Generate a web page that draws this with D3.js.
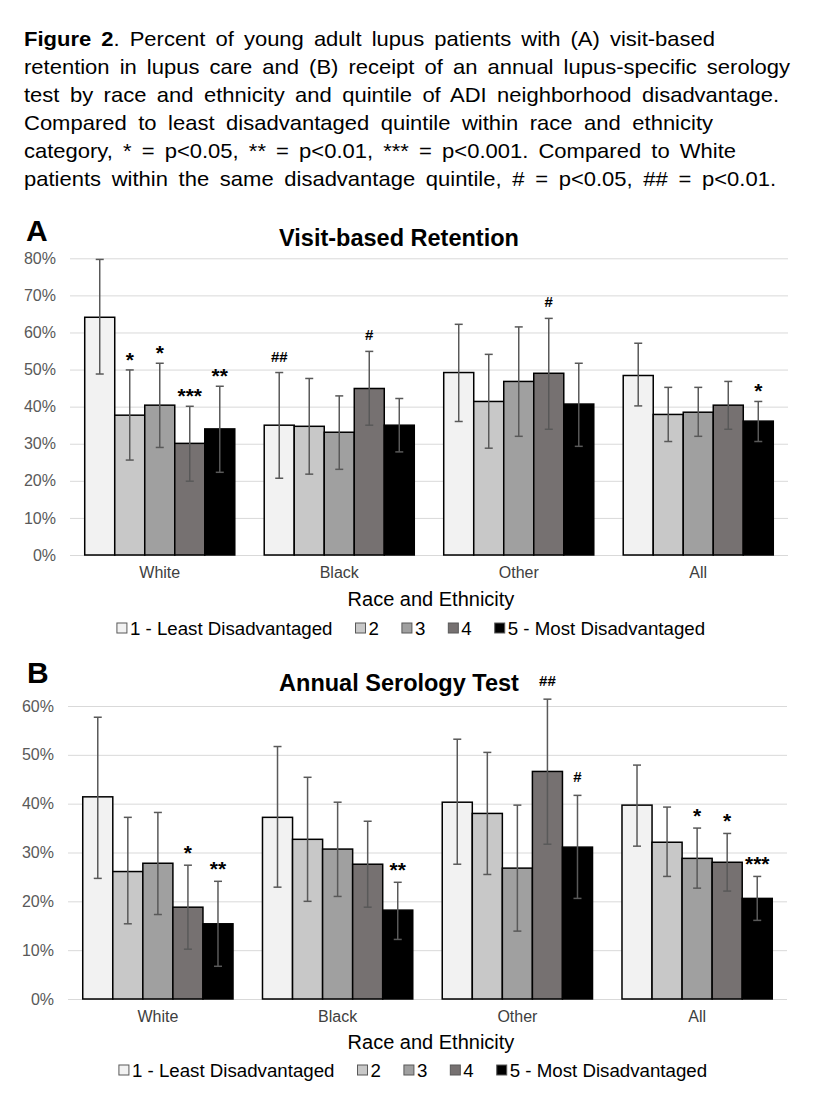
<!DOCTYPE html>
<html>
<head>
<meta charset="utf-8">
<script src="https://cdn.jsdelivr.net/npm/d3@7"></script>
<style>
  body { margin: 0; background: #fff; }
  svg { display: block; font-family: "Liberation Sans", Arial, sans-serif; }
</style>
</head>
<body>
<div id="chart"></div>
<script>
const categories = ['White', 'Black', 'Other', 'All'];
const quintiles = ['1 - Least Disadvantaged', '2', '3', '4', '5 - Most Disadvantaged'];
const colors = ['#f2f2f2', '#c8c8c8', '#a0a0a0', '#767171', '#000000'];

// A: visit-based retention (%), one row per category, one value per quintile
const retention     = [[64.1, 37.7, 40.4, 30.1, 34.0], [35.0, 34.7, 33.1, 44.9, 35.0], [49.2, 41.4, 46.8, 49.0, 40.7], [48.4, 37.9, 38.5, 40.4, 36.1]];
const retentionLow  = [[48.8, 25.6, 29.0, 19.9, 22.3], [20.7, 21.8, 23.1, 35.0, 27.8], [36.0, 28.8, 32.0, 33.9, 29.3], [40.2, 30.6, 32.0, 33.9, 30.6]];
const retentionHigh = [[79.7, 49.9, 51.7, 40.1, 45.5], [49.2, 47.6, 42.9, 54.9, 42.2], [62.2, 54.1, 61.5, 63.8, 51.7], [57.1, 45.2, 45.2, 46.8, 41.4]];
const retentionSig  = [['', '*', '*', '***', '**'], ['##', '', '', '#', ''], ['', '', '', '#', ''], ['', '', '', '', '*']];
const retentionTicks = [0, 10, 20, 30, 40, 50, 60, 70, 80];

// B: annual serology test (%)
const serology     = [[41.4, 26.1, 27.8, 18.8, 15.4], [37.2, 32.7, 30.7, 27.6, 18.2], [40.3, 38.0, 26.8, 46.6, 31.1], [39.7, 32.1, 28.8, 28.0, 20.6]];
const serologyLow  = [[24.7, 15.4, 17.3, 10.2, 6.7], [22.9, 20.0, 21.0, 18.8, 12.2], [27.6, 25.5, 13.9, 31.7, 20.6], [31.3, 25.1, 22.7, 22.1, 16.1]];
const serologyHigh = [[57.7, 37.2, 38.2, 27.4, 24.1], [51.7, 45.4, 40.3, 36.4, 23.9], [53.2, 50.5, 39.7, 61.4, 41.7], [47.9, 39.3, 35.0, 33.9, 25.1]];
const serologySig  = [['', '', '', '*', '**'], ['', '', '', '', '**'], ['', '', '', '##', '#'], ['', '', '*', '*', '***']];
const serologyTicks = [0, 10, 20, 30, 40, 50, 60];

const caption = [
  'Percent of young adult lupus patients with (A) visit-based',
  'retention in lupus care and (B) receipt of an annual lupus-specific serology',
  'test by race and ethnicity and quintile of ADI neighborhood disadvantage.',
  'Compared to least disadvantaged quintile within race and ethnicity',
  'category, * = p<0.05, ** = p<0.01, *** = p<0.001. Compared to White',
  'patients within the same disadvantage quintile, # = p<0.05, ## = p<0.01.'
];
const captionEnds = [715, 790, 779, 713, 736, 776];

const W = 816, H = 1104;
const svg = d3.select('#chart').append('svg')
  .attr('width', W).attr('height', H);

// caption: glyphs are a bit wide in the original, lines padded by word spacing
const sx = 1.1;
caption.forEach((line, i) => {
  const t = svg.append('text')
    .attr('transform', `translate(24,${46 + i * 28}) scale(${sx},1)`)
    .attr('font-size', 20).attr('fill', '#000');
  if (i === 0) {
    t.append('tspan').attr('font-weight', 'bold').text('Figure 2');
    t.append('tspan').text('. ' + line);
  } else {
    t.text(line);
  }
  const natural = t.node().getComputedTextLength();
  const spaces = (i === 0 ? line.split(' ').length + 1 : line.split(' ').length - 1);
  const extra = ((captionEnds[i] - 24) / sx - natural) / spaces;
  t.attr('word-spacing', extra);
});

function panel(cfg) {
  const g = svg.append('g');
  const x0 = d3.scaleBand().domain(categories)
    .range([cfg.left, cfg.right]).paddingInner(0.164).paddingOuter(0.082);
  const x1 = d3.scaleBand().domain(d3.range(quintiles.length))
    .range([0, x0.bandwidth()]);
  const y = d3.scaleLinear().domain([0, d3.max(cfg.ticks)])
    .range([cfg.bottom, cfg.top]);

  // letter + title
  g.append('text').attr('x', cfg.letterX).attr('y', cfg.letterY)
    .attr('font-size', 30).attr('font-weight', 'bold').text(cfg.letter);
  g.append('text').attr('x', 399).attr('y', cfg.titleY)
    .attr('text-anchor', 'middle').attr('font-size', 23.5).attr('font-weight', 'bold')
    .text(cfg.title);

  // y axis with gridlines
  const ya = g.append('g')
    .attr('transform', `translate(${cfg.left},0)`)
    .call(d3.axisLeft(y).tickValues(cfg.ticks).tickSize(-(cfg.right - cfg.left))
      .tickPadding(14).tickFormat(d => d + '%'));
  ya.select('.domain').remove();
  ya.selectAll('line').attr('stroke', '#d9d9d9');
  ya.selectAll('text').attr('font-size', 16).attr('fill', '#595959')
    .attr('font-family', '"Liberation Sans", Arial, sans-serif');

  // x axis labels
  const xa = g.append('g')
    .attr('transform', `translate(0,${cfg.bottom})`)
    .call(d3.axisBottom(x0).tickSize(0).tickPadding(12));
  xa.select('.domain').remove();
  xa.selectAll('text').attr('font-size', 16).attr('fill', '#404040')
    .attr('font-family', '"Liberation Sans", Arial, sans-serif');

  g.append('text').attr('x', 431).attr('y', cfg.axisTitleY)
    .attr('text-anchor', 'middle').attr('font-size', 20).attr('fill', '#000')
    .text('Race and Ethnicity');

  // bars
  const rows = categories.map((c, ci) => ({
    cat: c,
    vals: cfg.values[ci].map((v, qi) => ({
      q: qi, v, lo: cfg.low[ci][qi], hi: cfg.high[ci][qi], sig: cfg.sig[ci][qi]
    }))
  }));
  const grp = g.selectAll('.grp').data(rows).join('g')
    .attr('class', 'grp')
    .attr('transform', d => `translate(${x0(d.cat)},0)`);

  grp.selectAll('rect').data(d => d.vals).join('rect')
    .attr('x', d => x1(d.q))
    .attr('y', d => y(d.v))
    .attr('width', x1.bandwidth())
    .attr('height', d => y(0) - y(d.v))
    .attr('fill', d => colors[d.q])
    .attr('stroke', '#000').attr('stroke-width', 1.5);

  // error bars
  const cx = d => x1(d.q) + x1.bandwidth() / 2;
  const eb = grp.selectAll('.err').data(d => d.vals).join('g')
    .attr('class', 'err')
    .attr('stroke', '#595959').attr('stroke-width', 1.5);
  eb.append('line')
    .attr('x1', cx).attr('x2', cx)
    .attr('y1', d => y(d.lo)).attr('y2', d => y(d.hi));
  eb.append('line')
    .attr('x1', d => cx(d) - 4).attr('x2', d => cx(d) + 4)
    .attr('y1', d => y(d.hi)).attr('y2', d => y(d.hi));
  eb.append('line')
    .attr('x1', d => cx(d) - 4).attr('x2', d => cx(d) + 4)
    .attr('y1', d => y(d.lo)).attr('y2', d => y(d.lo));

  // significance marks
  grp.selectAll('.sig').data(d => d.vals.filter(v => v.sig)).join('text')
    .attr('class', 'sig')
    .attr('x', cx)
    .attr('y', d => y(d.hi) - (d.sig[0] === '#' ? cfg.hashOff : cfg.starOff))
    .attr('text-anchor', 'middle').attr('font-weight', 'bold')
    .attr('font-size', d => d.sig[0] === '#' ? 15 : 21)
    .text(d => d.sig);

  // legend
  const lg = g.append('g');
  let lx = 0;
  quintiles.forEach((q, i) => {
    const item = lg.append('g').attr('transform', `translate(${lx},0)`);
    item.append('rect').attr('x', 0).attr('y', -12).attr('width', 10).attr('height', 10)
      .attr('fill', colors[i]).attr('stroke', '#595959').attr('stroke-width', 1);
    const t = item.append('text').attr('x', 13).attr('y', 0)
      .attr('font-size', 18.7).attr('fill', '#000').text(q);
    lx += 13 + t.node().getComputedTextLength() + 23;
  });
  const total = lx - 23;
  lg.attr('transform', `translate(${cfg.legendCx - total / 2},${cfg.legendY})`);
}

panel({
  letter: 'A', letterX: 26, letterY: 241,
  title: 'Visit-based Retention', titleY: 246,
  left: 70, right: 788, top: 258.3, bottom: 555,
  ticks: retentionTicks,
  values: retention, low: retentionLow, high: retentionHigh, sig: retentionSig,
  starOff: 3, hashOff: 11,
  axisTitleY: 606, legendY: 635, legendCx: 411
});

panel({
  letter: 'B', letterX: 27, letterY: 683,
  title: 'Annual Serology Test', titleY: 691,
  left: 68, right: 787, top: 706, bottom: 999,
  ticks: serologyTicks,
  values: serology, low: serologyLow, high: serologyHigh, sig: serologySig,
  starOff: 5, hashOff: 13,
  axisTitleY: 1049, legendY: 1077, legendCx: 413
});
</script>
</body>
</html>
